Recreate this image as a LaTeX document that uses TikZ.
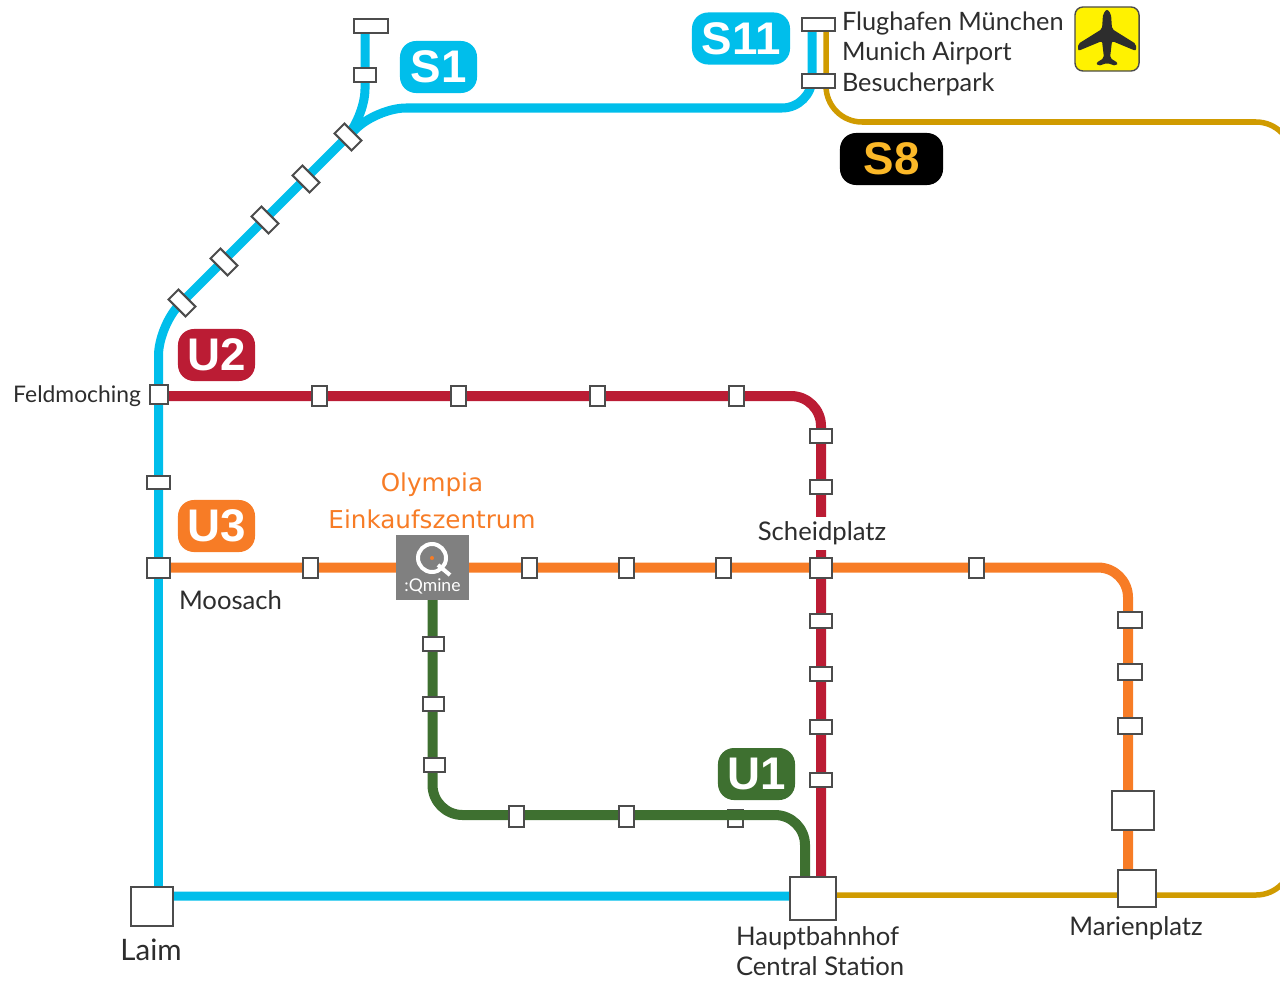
\documentclass[tikz,border=0pt]{standalone}
\usepackage{fontspec}
\setmainfont{Lato}
\newfontfamily\badgefont{Liberation Sans}
\newfontfamily\mallfont{DejaVu Sans}
\usetikzlibrary{backgrounds}
\definecolor{ColorSB}{RGB}{0,190,235}
\definecolor{ColorSG}{RGB}{208,155,0}
\definecolor{ColorUR}{RGB}{187,28,52}
\definecolor{ColorUO}{RGB}{247,124,38}
\definecolor{ColorUG}{RGB}{62,112,48}
\definecolor{ColorTX}{RGB}{45,45,45}
\definecolor{ColorYS}{RGB}{251,184,40}
\tikzset{
stn/.style={draw=black!70,fill=white,line width=0.2mm},
hstn/.style={stn,minimum width=2.2mm,minimum height=1.4mm},
vstn/.style={stn,minimum width=1.5mm,minimum height=2mm},
dstn/.style={stn,minimum width=2.4mm,minimum height=1.4mm,rotate=-45},
badge/.style={rounded corners=1.6mm,minimum height=5.2mm,text=white,font=\badgefont\bfseries\fontsize{13}{14}\selectfont},
lbl/.style={text=ColorTX,font=\fontsize{7.3}{8.3}\selectfont},
line/.style={line width=0.9mm,rounded corners=3mm}
}
\begin{document}
\begin{tikzpicture}[x=0.01cm,y=-0.01cm,inner sep=0,outer sep=0]
\useasboundingbox (0,0) rectangle (1280,985);
% big interchanges
\node[stn,minimum width=4.2mm,minimum height=3.9mm] (laim) at (152,906.5) {};
\node[stn,minimum width=4.6mm,minimum height=4.3mm] (hbf) at (813,898) {};
\node[stn,minimum width=3.8mm,minimum height=3.7mm] (marien) at (1137,888.5) {};
\node[stn,minimum width=4.2mm,minimum height=3.9mm] (sendl) at (1133,810.5) {};
\node[stn,minimum width=3.3mm,minimum height=1.3mm] (airport) at (818,24.5) {};
\node[stn,minimum width=3.3mm,minimum height=1.4mm] (besuch) at (818,81) {};
\node[stn,minimum width=3.4mm,minimum height=1.3mm] (oberschl) at (371,26) {};
\node[hstn] (hochbr) at (365,75) {};
\node[dstn] (gar) at (348,137) {};
\node[dstn] (dia) at (306,179) {};
\node[dstn] (frei) at (265,220) {};
\node[dstn] (euro) at (224,262) {};
\node[dstn] (harth) at (182,303) {};
\node[minimum width=1.8mm,minimum height=1.9mm,stn] (feld) at (159,394.5) {};
\node[hstn,minimum height=1.3mm] (lasall) at (158.5,482) {};
\node[hstn,minimum height=2mm] (moosach) at (158.5,567.5) {};
% U2
\node[vstn] (utwo) at (319,396) {};
\node[vstn] (uthree) at (458,396) {};
\node[vstn] (ufour) at (597,396) {};
\node[vstn] (ufive) at (736,396) {};
\node[hstn] (rtwo) at (821,436) {};
\node[hstn] (rthree) at (821,487) {};
\node[hstn,minimum height=2mm] (scheid) at (821,568) {};
\node[hstn] (rfour) at (821,621) {};
\node[hstn] (rfive) at (821,674) {};
\node[hstn] (rsix) at (821,727) {};
\node[hstn] (rseven) at (821,780) {};
% U3
\node[vstn] (otwo) at (310,567.5) {};
\node[fill=black!50,minimum width=7.3mm,minimum height=6.5mm] (qmine) at (432.5,567.5) {};
\node[vstn] (othree) at (529,567.5) {};
\node[vstn] (ofour) at (626,567.5) {};
\node[vstn] (ofive) at (723,567.5) {};
\node[vstn] (osix) at (976,568) {};
\node[hstn,minimum width=2.4mm,minimum height=1.6mm] (oseven) at (1130,620) {};
\node[hstn,minimum width=2.4mm,minimum height=1.6mm] (oeight) at (1130,672) {};
\node[hstn,minimum width=2.4mm,minimum height=1.6mm] (onine) at (1130,726) {};
% U1
\node[hstn,minimum width=2.1mm] (gone) at (433,644) {};
\node[hstn,minimum width=2.1mm] (gtwo) at (433,704) {};
\node[hstn,minimum width=2.1mm] (gthree) at (434,765) {};
\node[vstn,minimum height=2.1mm] (gfour) at (516,816) {};
\node[vstn,minimum height=2.1mm] (gfive) at (626,816) {};
% bend points
\coordinate (cornerA) at (158.5,325.5);
\coordinate (cornerB) at (365,119);
\coordinate (cornerC) at (376,108);
\coordinate (cornerD) at (812,108);
\coordinate (cornerE) at (826,122);
\coordinate (cornerF) at (1292,122);
\coordinate (cornerG) at (1292,895);
\coordinate (cornerH) at (821,396);
\coordinate (cornerI) at (1128,567.5);
\coordinate (cornerJ) at (432.5,815);
\coordinate (cornerK) at (805,815);
\begin{pgfonlayer}{background}
\draw[line,ColorSB] ([xshift=-0.6mm]oberschl.south) -- (cornerB) -- (cornerA) -- (moosach.south);
\draw[line,ColorSB] (moosach.south) -- (moosach.south |- laim.north);
\draw[line,ColorSB] ([xshift=-0.6mm]airport.south) -- (cornerD) -- (cornerC) -- (gar.center);
\draw[line,ColorSB] ([yshift=1.05mm]laim.east) -- ([yshift=0.2mm]hbf.west);
\draw[line,ColorSG,line width=0.55mm,rounded corners=3.6mm] ([xshift=0.8mm]airport.south) -- (cornerE) -- (cornerF) -- (cornerG) -- ([yshift=0.3mm]hbf.east);
\draw[line,ColorUR,line width=1mm] ([yshift=-0.15mm]feld.east) -- (cornerH) -- ([xshift=0.8mm]hbf.north);
\draw[line,ColorUO,line width=1mm] (moosach.east) -- (cornerI) -- ([xshift=-0.9mm]marien.north);
\node[vstn,minimum height=1.7mm] (gsix) at (735,818.5) {};
\draw[line,ColorUG,line width=1mm] (qmine.south) -- (cornerJ) -- (cornerK) -- ([xshift=-0.8mm]hbf.north);
\end{pgfonlayer}
% Qmine sign
\draw[white,line width=0.4mm] (432,558) circle (14);
\draw[white,line width=0.4mm] (438,565)--(450,575);
\fill[ColorUO] (432,558) circle (2);
\node[text=white,font=\fontsize{5}{6}\selectfont] (qminetxt) at (432.5,586) {:Qmine};
% badges
\node[badge,fill=ColorSB,minimum width=7.7mm] (sone) at (438.5,67) {S1};
\node[badge,fill=ColorSB,minimum width=9.8mm] (seleven) at (741,38.5) {S11};
\node[badge,fill=black,text=ColorYS,minimum width=10.3mm] (seight) at (891.5,159) {S8};
\node[badge,fill=ColorUR,minimum width=7.7mm] (utwobadge) at (216.5,355) {U2};
\node[badge,fill=ColorUO,minimum width=7.7mm] (uthreebadge) at (216.5,526) {U3};
\node[badge,fill=ColorUG,minimum width=7.7mm] (uonebadge) at (756.5,774) {U1};
% airport sign
\node[draw=black!70,fill=yellow,rounded corners=0.8mm,minimum size=6.4mm] (plane) at (1107,39) {};
\fill[ColorTX,rounded corners=0.2mm] (1107,9)--(1111,14)--(1112,29)--(1136,44)--(1136,51)--(1112,41)--(1110,58)--(1118,63)--(1116,66)--(1107,63)--(1098,66)--(1096,63)--(1104,58)--(1102,41)--(1078,51)--(1078,44)--(1102,29)--(1103,14)--cycle;
% labels
\node[lbl,anchor=west,font=\fontsize{7.2}{8}\selectfont] (lflug) at (842,23) {Flughafen München};
\node[lbl,anchor=west,font=\fontsize{7.2}{8}\selectfont] (lmuc) at (842,53) {Munich Airport};
\node[lbl,anchor=west,font=\fontsize{7.2}{8}\selectfont] (lbes) at (842,84) {Besucherpark};
\node[lbl,anchor=east,font=\fontsize{6.5}{8}\selectfont] (lfeld) at (141,396) {Feldmoching};
\node[lbl,anchor=west] (lmoos) at (179,600) {Moosach};
\node[lbl,fill=white,minimum height=3.3mm] (lscheid) at (822,533.5) {Scheidplatz};
\node[lbl,font=\fontsize{8.4}{9}\selectfont] (llaim) at (151,950) {Laim};
\node[lbl,align=left,anchor=north west] (lhbf) at (736,927) {Hauptbahnhof\\Central Station};
\node[lbl] (lmarien) at (1136,928) {Marienplatz};
\node[text=ColorUO,align=center,font=\mallfont\fontsize{7}{10.5}\selectfont] (lolymp) at (432,501) {Olympia\\Einkaufszentrum};
\end{tikzpicture}
\end{document}
